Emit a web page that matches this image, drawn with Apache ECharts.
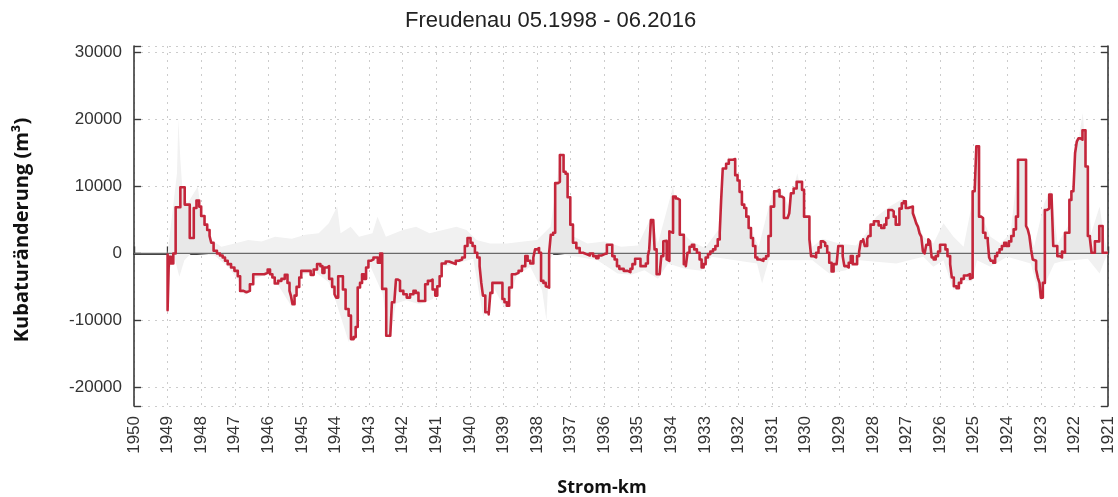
<!DOCTYPE html>
<html>
<head>
<meta charset="utf-8">
<title>Freudenau 05.1998 - 06.2016</title>
<script src="https://cdn.jsdelivr.net/npm/echarts@6/dist/echarts.min.js"></script>
<style>
  html, body { margin: 0; padding: 0; background: #ffffff; }
  #chart { width: 1118px; height: 497px; }
</style>
</head>
<body>
<div id="chart"></div>
<script>
// Kubaturänderung entlang der Donau, Strom-km 1950 → 1921
const profilKm = [
  1949.00, 1949.00, 1948.96, 1948.90, 1948.83, 1948.76, 1948.62, 1948.49, 1948.34, 1948.22,
  1948.14, 1948.06, 1948.00, 1947.90, 1947.82, 1947.75, 1947.70, 1947.63, 1947.53, 1947.44,
  1947.36, 1947.29, 1947.21, 1947.11, 1947.01, 1946.91, 1946.84, 1946.74, 1946.65, 1946.55,
  1946.45, 1946.12, 1946.02, 1945.95, 1945.88, 1945.81, 1945.71, 1945.61, 1945.51, 1945.43,
  1945.37, 1945.33, 1945.28, 1945.22, 1945.16, 1945.08, 1945.02, 1944.84, 1944.74, 1944.65,
  1944.55, 1944.45, 1944.39, 1944.33, 1944.25, 1944.19, 1944.10, 1944.03, 1943.98, 1943.92,
  1943.78, 1943.70, 1943.61, 1943.54, 1943.46, 1943.40, 1943.34, 1943.27, 1943.21, 1943.15,
  1943.09, 1943.02, 1942.95, 1942.87, 1942.74, 1942.67, 1942.61, 1942.49, 1942.37, 1942.32,
  1942.25, 1942.20, 1942.14, 1942.08, 1941.98, 1941.88, 1941.78, 1941.68, 1941.61, 1941.53,
  1941.33, 1941.25, 1941.18, 1941.11, 1941.03, 1940.97, 1940.90, 1940.84, 1940.72, 1940.62,
  1940.52, 1940.42, 1940.33, 1940.23, 1940.15, 1940.07, 1939.98, 1939.92, 1939.85, 1939.78,
  1939.71, 1939.66, 1939.61, 1939.54, 1939.44, 1939.39, 1939.33, 1939.03, 1938.97, 1938.90,
  1938.83, 1938.75, 1938.65, 1938.55, 1938.45, 1938.35, 1938.28, 1938.20, 1938.11, 1938.06,
  1938.00, 1937.94, 1937.88, 1937.81, 1937.74, 1937.69, 1937.64, 1937.59, 1937.52, 1937.46,
  1937.38, 1937.32, 1937.21, 1937.15, 1937.09, 1937.01, 1936.93, 1936.83, 1936.73, 1936.63,
  1936.53, 1936.43, 1936.33, 1936.24, 1936.17, 1936.07, 1935.99, 1935.92, 1935.76, 1935.69,
  1935.62, 1935.55, 1935.42, 1935.30, 1935.22, 1935.16, 1935.08, 1934.92, 1934.76, 1934.70,
  1934.66, 1934.61, 1934.54, 1934.50, 1934.44, 1934.35, 1934.30, 1934.24, 1934.19, 1934.14,
  1934.10, 1934.06, 1934.01, 1933.95, 1933.87, 1933.81, 1933.75, 1933.63, 1933.57, 1933.52,
  1933.46, 1933.39, 1933.32, 1933.24, 1933.16, 1933.10, 1933.04, 1932.98, 1932.91, 1932.84,
  1932.76, 1932.69, 1932.62, 1932.56, 1932.52, 1932.47, 1932.37, 1932.29, 1932.17, 1932.10,
  1932.03, 1931.97, 1931.90, 1931.83, 1931.77, 1931.70, 1931.63, 1931.57, 1931.50, 1931.44,
  1931.36, 1931.26, 1931.18, 1931.11, 1931.04, 1930.94, 1930.84, 1930.78, 1930.71, 1930.65,
  1930.54, 1930.49, 1930.44, 1930.36, 1930.27, 1930.11, 1930.05, 1929.89, 1929.84, 1929.77,
  1929.69, 1929.62, 1929.55, 1929.48, 1929.42, 1929.36, 1929.30, 1929.23, 1929.17, 1929.08,
  1929.03, 1928.90, 1928.85, 1928.78, 1928.72, 1928.66, 1928.60, 1928.47, 1928.41, 1928.36,
  1928.29, 1928.24, 1928.17, 1928.13, 1928.07, 1927.97, 1927.83, 1927.75, 1927.66, 1927.60,
  1927.54, 1927.44, 1927.38, 1927.32, 1927.21, 1927.14, 1927.08, 1927.02, 1926.95, 1926.81,
  1926.76, 1926.71, 1926.66, 1926.61, 1926.56, 1926.51, 1926.46, 1926.41, 1926.35, 1926.30,
  1926.25, 1926.19, 1926.13, 1926.06, 1926.00, 1925.84, 1925.78, 1925.70, 1925.65, 1925.59,
  1925.51, 1925.44, 1925.37, 1925.29, 1925.19, 1925.11, 1925.07, 1925.03, 1924.97, 1924.92,
  1924.84, 1924.78, 1924.72, 1924.65, 1924.58, 1924.54, 1924.49, 1924.42, 1924.36, 1924.30,
  1924.23, 1924.16, 1924.09, 1924.03, 1923.95, 1923.88, 1923.81, 1923.74, 1923.68, 1923.44,
  1923.39, 1923.34, 1923.29, 1923.24, 1923.19, 1923.14, 1923.09, 1923.04, 1923.00, 1922.94,
  1922.88, 1922.81, 1922.75, 1922.68, 1922.63, 1922.51, 1922.43, 1922.37, 1922.33, 1922.28,
  1922.15, 1922.09, 1922.03, 1921.98, 1921.93, 1921.88, 1921.82, 1921.76, 1921.67, 1921.60,
  1921.54, 1921.49, 1921.39, 1921.26, 1921.16, 1921.00
];
const profilWert = [
  0, -8500, -500, -1500, 0, 6900, 9900, 7300, 2300, 6800,
  7900, 7000, 5600, 4300, 3500, 2600, 1600, 400, 0, -300,
  -600, -1100, -1600, -2100, -2600, -3400, -5600, -5800, -5600, -4600,
  -3100, -2900, -2400, -3100, -3600, -4500, -4100, -3800, -3200, -4400,
  -5600, -6300, -7600, -6300, -5000, -3600, -2600, -2600, -3200, -2400,
  -1600, -1900, -2900, -2100, -1900, -3800, -5000, -6100, -6600, -3400,
  -5400, -8300, -9300, -12800, -12500, -11000, -5100, -4400, -3100, -3800,
  -2100, -1100, -900, -600, -1400, 0, -5300, -12300, -12500, -7300,
  -7100, -3900, -4100, -5600, -6100, -6600, -6100, -5600, -5900, -7100,
  -4600, -4100, -3900, -5400, -6300, -4900, -3400, -1500, -1200, -1400,
  -1600, -1100, -900, -600, 1100, 2300, 1600, 1100, 100, -600,
  -1900, -4400, -6300, -8800, -9100, -5900, -4400, -6800, -7300, -7800,
  -5100, -3100, -2900, -2600, -1900, -400, -1100, -1500, -600, 600,
  800, 100, -4100, -4400, -4900, -5100, 100, 2800, 3100, 10500,
  10700, 14700, 12200, 11900, 8400, 4300, 1600, 800, 100, -100,
  -300, 0, -400, -700, -300, -100, 0, 1300, -400, -900,
  -1900, -2300, -2600, -2800, -2300, -1600, -800, -1900, -1500, -400,
  600, 5000, 4800, 600, -3100, -3200, -400, 1800, 1900, -900,
  -1100, 3300, 3100, 8500, 8200, 8000, 2800, -1600, -1900, 100,
  1000, 1300, 600, 100, -900, -2100, -1600, -600, -100, 300,
  600, 1100, 2100, 3100, 7800, 12700, 13400, 14000, 14100, 11700,
  10900, 9200, 7300, 6800, 5500, 3800, 2300, 1100, -600, -900,
  -1100, -800, -400, 2600, 7000, 9300, 9500, 8500, 8300, 5300,
  5500, 6000, 9000, 9700, 10700, 9500, 5500, 2100, -400, -600,
  100, 900, 1800, 1600, 1100, 100, -1400, -2700, -1600, -1500,
  1100, -400, -1900, -2100, -1400, -400, -1600, -400, 300, 1800,
  2100, 1100, 2200, 2600, 4300, 4800, 4200, 3800, 4300, 5300,
  6500, 6300, 5500, 4300, 6700, 7500, 7800, 6800, 7000, 6000,
  5300, 4500, 4000, 3000, 2500, 300, 0, 1300, 2100, 1800,
  -600, -900, -400, 300, 1300, 600, -400, -1600, -3600, -4900,
  -5200, -4400, -3800, -3300, -3100, -3800, -3600, 9300, 9500, 16000,
  5500, 5300, 3100, 2300, 1800, -600, -1100, -1400, -400, 100,
  600, 1100, 1600, 1100, 1800, 2600, 3600, 5500, 14000, 4100,
  3600, 2600, 600, -900, -1100, -2400, -3600, -4400, -6600, -4400,
  6500, 6700, 8800, 8500, 1100, -400, -600, 300, 100, 3100,
  8000, 9300, 9500, 15000, 16700, 17200, 17000, 18400, 13000, 2600,
  2300, 100, 1800, 4100, 100, 0
];

// Streubereich der Einzelmessungen (obere und untere Hüllkurve)
const huelleObenKm = [
  1949.00, 1948.72, 1948.68, 1948.62, 1948.55, 1948.40, 1948.10, 1948.00, 1947.70, 1947.40,
  1947.00, 1946.60, 1946.20, 1945.80, 1945.30, 1944.90, 1944.50, 1944.20, 1943.95, 1943.85,
  1943.55, 1943.30, 1942.90, 1942.75, 1942.50, 1942.00, 1941.60, 1941.20, 1940.80, 1940.40,
  1940.10, 1939.80, 1939.40, 1938.90, 1938.40, 1938.00, 1937.60, 1937.40, 1937.30, 1937.10,
  1936.90, 1936.50, 1936.00, 1935.50, 1935.00, 1934.60, 1934.40, 1933.95, 1933.75, 1933.40,
  1933.00, 1932.60, 1932.50, 1932.30, 1932.00, 1931.70, 1931.40, 1931.00, 1930.80, 1930.50,
  1930.25, 1930.00, 1929.80, 1929.50, 1929.00, 1928.50, 1928.20, 1927.90, 1927.50, 1927.10,
  1926.80, 1926.50, 1926.20, 1925.90, 1925.60, 1925.30, 1924.95, 1924.90, 1924.80, 1924.50,
  1924.20, 1923.90, 1923.65, 1923.45, 1923.20, 1922.90, 1922.70, 1922.50, 1922.20, 1922.00,
  1921.85, 1921.75, 1921.65, 1921.50, 1921.25, 1921.10, 1921.00
];
const huelleObenWert = [
  0, 12000, 20000, 14000, 9000, 7500, 10000, 6000, 2000, 1000,
  1500, 2000, 1800, 2500, 2200, 2800, 3000, 4500, 7000, 3000,
  4000, 2500, 3000, 5500, 2500, 3500, 4000, 3000, 3500, 4000,
  3500, 2000, 1500, 1500, 1800, 2000, 4000, 11000, 15500, 8000,
  2500, 1500, 1800, 1000, 1200, 5500, 1500, 10000, 3500, 1800,
  800, 3500, 12000, 14500, 11000, 4500, 1000, 9000, 10000, 7000,
  12000, 6000, 1000, 2200, 1500, 1200, 3000, 5500, 7000, 8200,
  6500, 2500, 1500, 4500, 2500, 1000, 10000, 16500, 6000, 2500,
  1500, 3000, 14500, 5000, 1000, 7500, 9500, 1500, 4000, 10000,
  18000, 21000, 14000, 3000, 7000, 2000, 0
];
const huelleUntenKm = [
  1949.00, 1948.95, 1948.80, 1948.65, 1948.50, 1948.30, 1947.60, 1947.20, 1946.90, 1946.70,
  1946.40, 1946.00, 1945.70, 1945.30, 1945.00, 1944.60, 1944.20, 1944.00, 1943.60, 1943.30,
  1943.00, 1942.60, 1942.40, 1942.20, 1941.90, 1941.50, 1941.10, 1940.80, 1940.40, 1939.90,
  1939.60, 1939.30, 1938.95, 1938.60, 1938.20, 1937.85, 1937.72, 1937.64, 1937.50, 1936.80,
  1936.20, 1935.60, 1935.20, 1934.80, 1934.40, 1934.10, 1933.60, 1933.10, 1932.80, 1931.45,
  1931.30, 1931.10, 1929.80, 1929.30, 1928.80, 1928.40, 1927.30, 1926.50, 1926.20, 1925.90,
  1925.60, 1925.30, 1925.05, 1924.90, 1924.50, 1924.00, 1923.30, 1923.00, 1922.90, 1922.60,
  1922.40, 1921.60, 1921.25, 1921.10, 1921.00
];
const huelleUntenWert = [
  -9000, -2500, -500, -3500, -1000, 0, -300, -2000, -4000, -6300,
  -3800, -3000, -4800, -8000, -3200, -2800, -4300, -7000, -13300, -5500,
  -1500, -6000, -13000, -7500, -7000, -7600, -6800, -2000, -1500, -800,
  -9500, -5000, -8300, -3300, -2000, -5500, -10000, -1000, 0, -500,
  -1000, -3000, -3200, -2500, -3800, -1500, -2300, -2600, -500, -1500,
  -4500, -1000, -1000, -3000, -2500, -1000, -1500, -500, -2000, -1000,
  -5500, -4000, -4200, -1000, -2000, -500, -1500, -7200, -4800, -1500,
  -1200, -800, -3000, -1000, 0
];

// Achsenbereich und Beschriftung
const kmVon = 1921;
const kmBis = 1950;
const kubaturMin = -22800;
const kubaturMax = 31000;
const kubaturSchritt = 10000;
const titel = 'Freudenau 05.1998 - 06.2016';
const yTitel = 'Kubaturänderung (m³)';
const xTitel = 'Strom-km';

const paare = (xs, ys) => xs.map((x, i) => [x, ys[i]]);

const rahmen = { show: true, lineStyle: { color: '#3a3a3a', width: 1.6 } };
const gitter = { show: true, lineStyle: { color: '#cccccc', type: [2, 5], width: 1 } };
const labelFont = { fontFamily: 'Liberation Sans', fontSize: 17, color: '#333333' };
const tickStil = { show: true, inside: true, length: 7, lineStyle: { color: '#3a3a3a', width: 1.4 } };

const chart = echarts.init(document.getElementById('chart'), null, { renderer: 'canvas' });

chart.setOption({
  animation: false,
  backgroundColor: '#ffffff',
  title: {
    text: titel,
    left: 400, top: 5,
    textStyle: { fontFamily: 'Liberation Sans', fontSize: 22, fontWeight: 'normal', color: '#222222' }
  },
  grid: { left: 134, right: 10, top: 46, bottom: 91, outerBoundsMode: 'none', containLabel: false },
  xAxis: [
    {
      type: 'value', min: kmVon, max: kmBis, interval: 1, inverse: true, position: 'bottom',
      axisLine: rahmen,
      axisTick: tickStil,
      axisLabel: Object.assign({ rotate: 90, margin: 10, formatter: v => String(v) }, labelFont),
      splitLine: gitter
    },
    {
      type: 'value', min: kmVon, max: kmBis, interval: 1, inverse: true, position: 'top',
      axisLine: rahmen, axisTick: { show: false }, axisLabel: { show: false }, splitLine: { show: false }
    }
  ],
  yAxis: [
    {
      type: 'value', min: kubaturMin, max: kubaturMax, minInterval: kubaturSchritt, maxInterval: kubaturSchritt,
      position: 'left',
      axisLine: rahmen,
      axisTick: tickStil,
      axisLabel: Object.assign({ margin: 12, formatter: v => (v % kubaturSchritt === 0 ? String(v) : '') }, labelFont),
      splitLine: gitter
    },
    {
      type: 'value', min: kubaturMin, max: kubaturMax, minInterval: kubaturSchritt, maxInterval: kubaturSchritt,
      position: 'right',
      axisLine: rahmen,
      axisTick: tickStil,
      axisLabel: { show: false },
      splitLine: { show: false }
    }
  ],
  series: [
    {
      name: 'Streubereich oben', type: 'line', symbol: 'none', silent: true, z: 1,
      data: paare(huelleObenKm, huelleObenWert),
      lineStyle: { width: 0 },
      areaStyle: { color: '#f1f1f1', opacity: 1 }
    },
    {
      name: 'Streubereich unten', type: 'line', symbol: 'none', silent: true, z: 1,
      data: paare(huelleUntenKm, huelleUntenWert),
      lineStyle: { width: 0 },
      areaStyle: { color: '#f1f1f1', opacity: 1 }
    },
    {
      name: 'Fläche', type: 'line', step: 'end', symbol: 'none', silent: true, z: 2,
      data: paare(profilKm, profilWert),
      lineStyle: { width: 0 },
      areaStyle: { color: '#e8e8e8', opacity: 1 }
    },
    {
      name: 'Nulllinie', type: 'line', symbol: 'none', silent: true, z: 3,
      data: [[kmBis, 0], [kmVon, 0]],
      lineStyle: { color: '#6a6a6a', width: 1.2 }
    },
    {
      name: 'Kubaturänderung', type: 'line', step: 'end', symbol: 'none', z: 4,
      data: paare(profilKm, profilWert),
      lineStyle: { color: '#c4263b', width: 2.6, join: 'round' }
    }
  ],
  graphic: [
    {
      type: 'text', rotation: Math.PI / 2,
      x: 22, y: 230,
      style: {
        text: yTitel, fontFamily: 'Open Sans', fontSize: 20, fontWeight: 'bold', fill: '#111111',
        align: 'center', verticalAlign: 'middle'
      }
    },
    {
      type: 'text', x: 602, y: 488,
      style: {
        text: xTitel, fontFamily: 'Open Sans', fontSize: 18, fontWeight: 'bold', fill: '#111111',
        align: 'center', verticalAlign: 'middle'
      }
    }
  ]
});
</script>
</body>
</html>
